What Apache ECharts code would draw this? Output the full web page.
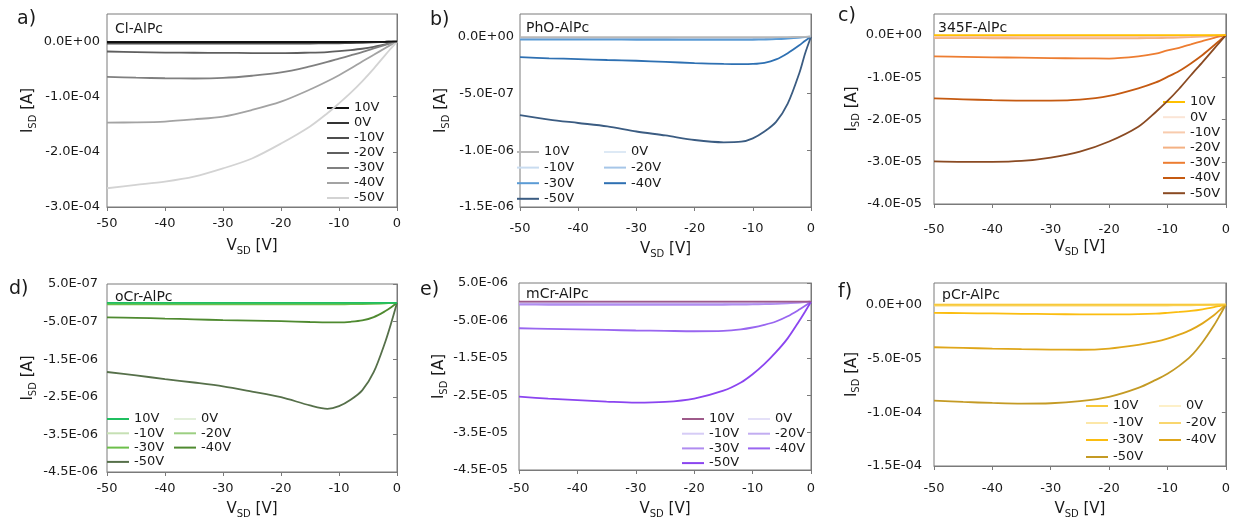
<!DOCTYPE html>
<html>
<head>
<meta charset="utf-8">
<script src="https://cdn.jsdelivr.net/npm/echarts/dist/echarts.min.js"></script>
<style>
html,body{margin:0;padding:0;background:#fff;}
#chart{width:1233px;height:520px;}
</style>
</head>
<body>
<div id="chart"></div>
<script>
// ---------- data ----------
const VSD = [-50,-45,-40,-35,-30,-25,-20,-15,-12,-10,-8,-6,-4,-2,-1,0];
const GATES = ['10V','0V','-10V','-20V','-30V','-40V','-50V'];

// Cl-AlPc
const A_CURVES = [
 [-0.8e-6,-0.8e-6,-0.8e-6,-0.8e-6,-0.8e-6,-0.8e-6,-0.8e-6,-0.8e-6,-0.8e-6,-0.8e-6,-0.7e-6,-0.6e-6,-0.5e-6,-0.3e-6,-0.1e-6,0],
 [-1.8e-6,-1.8e-6,-1.8e-6,-1.8e-6,-1.8e-6,-1.8e-6,-1.8e-6,-1.7e-6,-1.6e-6,-1.5e-6,-1.3e-6,-1.1e-6,-0.8e-6,-0.4e-6,-0.2e-6,0],
 [-3.5e-6,-3.6e-6,-3.7e-6,-3.8e-6,-3.8e-6,-3.8e-6,-3.7e-6,-3.5e-6,-3.2e-6,-3.0e-6,-2.6e-6,-2.1e-6,-1.5e-6,-0.8e-6,-0.4e-6,0],
 [-1.8e-5,-1.9e-5,-2.0e-5,-2.03e-5,-2.05e-5,-2.08e-5,-2.1e-5,-2.0e-5,-1.9e-5,-1.75e-5,-1.55e-5,-1.3e-5,-0.95e-5,-0.5e-5,-0.25e-5,0],
 [-6.4e-5,-6.55e-5,-6.65e-5,-6.7e-5,-6.6e-5,-6.2e-5,-5.6e-5,-4.5e-5,-3.7e-5,-3.1e-5,-2.5e-5,-1.9e-5,-1.25e-5,-0.6e-5,-0.3e-5,0],
 [-1.47e-4,-1.465e-4,-1.45e-4,-1.41e-4,-1.36e-4,-1.24e-4,-1.09e-4,-8.7e-5,-7.2e-5,-6.1e-5,-4.9e-5,-3.6e-5,-2.4e-5,-1.15e-5,-0.55e-5,0],
 [-2.66e-4,-2.60e-4,-2.54e-4,-2.45e-4,-2.30e-4,-2.12e-4,-1.85e-4,-1.54e-4,-1.30e-4,-1.12e-4,-9.3e-5,-7.2e-5,-4.9e-5,-2.4e-5,-1.2e-5,0]
];
// PhO-AlPc
const B_CURVES = [
 [-5e-9,-5e-9,-5e-9,-5e-9,-5e-9,-5e-9,-5e-9,-5e-9,-5e-9,-5e-9,-5e-9,-4e-9,-3e-9,-2e-9,-1e-9,0],
 [-1e-8,-1e-8,-1e-8,-1e-8,-1e-8,-1e-8,-1e-8,-1e-8,-1e-8,-1e-8,-1e-8,-8e-9,-6e-9,-3e-9,-1.5e-9,0],
 [-1.5e-8,-1.5e-8,-1.5e-8,-1.5e-8,-1.5e-8,-1.5e-8,-1.5e-8,-1.5e-8,-1.5e-8,-1.5e-8,-1.5e-8,-1.2e-8,-9e-9,-5e-9,-2.5e-9,0],
 [-2e-8,-2e-8,-2e-8,-2e-8,-2e-8,-2e-8,-2e-8,-2e-8,-2e-8,-2e-8,-2e-8,-1.6e-8,-1.2e-8,-6e-9,-3e-9,0],
 [-2.5e-8,-2.5e-8,-2.6e-8,-2.6e-8,-2.7e-8,-2.7e-8,-2.8e-8,-2.8e-8,-2.8e-8,-2.7e-8,-2.5e-8,-2.2e-8,-1.6e-8,-8e-9,-4e-9,0],
 [-1.8e-7,-1.9e-7,-1.97e-7,-2.05e-7,-2.12e-7,-2.22e-7,-2.32e-7,-2.4e-7,-2.42e-7,-2.4e-7,-2.3e-7,-2.0e-7,-1.45e-7,-0.75e-7,-0.35e-7,0],
 [-6.9e-7,-7.3e-7,-7.6e-7,-7.9e-7,-8.35e-7,-8.7e-7,-9.1e-7,-9.3e-7,-9.25e-7,-8.95e-7,-8.35e-7,-7.5e-7,-5.9e-7,-3.2e-7,-1.45e-7,0]
];
// 345F-AlPc
const C_CURVES = [
 [0,0,0,0,0,0,0,0,0,0,0,0,0,0,0,0],
 [-2e-7,-2e-7,-2e-7,-2e-7,-2e-7,-2e-7,-2e-7,-2e-7,-2e-7,-2e-7,-1.8e-7,-1.5e-7,-1.1e-7,-0.6e-7,-0.3e-7,0],
 [-4e-7,-4e-7,-4.1e-7,-4.1e-7,-4.2e-7,-4.2e-7,-4.2e-7,-4.1e-7,-3.9e-7,-3.7e-7,-3.3e-7,-2.8e-7,-2.0e-7,-1.1e-7,-0.5e-7,0],
 [-7e-7,-7.2e-7,-7.4e-7,-7.5e-7,-7.6e-7,-7.6e-7,-7.6e-7,-7.4e-7,-7.0e-7,-6.6e-7,-6.0e-7,-5.0e-7,-3.7e-7,-2.0e-7,-1.0e-7,0],
 [-5.05e-6,-5.15e-6,-5.25e-6,-5.35e-6,-5.45e-6,-5.5e-6,-5.55e-6,-5.05e-6,-4.4e-6,-3.6e-6,-3.0e-6,-2.2e-6,-1.4e-6,-0.63e-6,-0.3e-6,0],
 [-1.5e-5,-1.52e-5,-1.54e-5,-1.55e-5,-1.55e-5,-1.53e-5,-1.44e-5,-1.26e-5,-1.12e-5,-9.9e-6,-8.5e-6,-6.7e-6,-4.7e-6,-2.4e-6,-1.2e-6,0],
 [-2.99e-5,-3.0e-5,-3.0e-5,-2.98e-5,-2.9e-5,-2.76e-5,-2.52e-5,-2.17e-5,-1.82e-5,-1.56e-5,-1.27e-5,-9.5e-6,-6.4e-6,-3.2e-6,-1.6e-6,0]
];
// oCr-AlPc
const D_CURVES = [
 [0,0,0,0,0,0,0,0,0,0,0,0,0,0,0,0],
 [-1e-8,-1e-8,-1e-8,-1e-8,-1e-8,-1e-8,-1e-8,-1e-8,-1e-8,-1e-8,-1e-8,-8e-9,-6e-9,-3e-9,-1.5e-9,0],
 [-2e-8,-2e-8,-2e-8,-2e-8,-2e-8,-2e-8,-2e-8,-2e-8,-2e-8,-2e-8,-2e-8,-1.6e-8,-1.2e-8,-6e-9,-3e-9,0],
 [-3e-8,-3e-8,-3e-8,-3e-8,-3e-8,-3e-8,-3e-8,-3e-8,-3e-8,-3e-8,-2.8e-8,-2.4e-8,-1.8e-8,-9e-9,-4e-9,0],
 [-4e-8,-4e-8,-4e-8,-4e-8,-4e-8,-4e-8,-4e-8,-4e-8,-4e-8,-4e-8,-3.7e-8,-3.2e-8,-2.4e-8,-1.2e-8,-6e-9,0],
 [-3.85e-7,-4.0e-7,-4.2e-7,-4.4e-7,-4.6e-7,-4.75e-7,-4.9e-7,-5.1e-7,-5.2e-7,-5.2e-7,-5.05e-7,-4.7e-7,-3.8e-7,-2.2e-7,-1.2e-7,0],
 [-1.84e-6,-1.93e-6,-2.03e-6,-2.12e-6,-2.22e-6,-2.36e-6,-2.51e-6,-2.73e-6,-2.82e-6,-2.75e-6,-2.58e-6,-2.33e-6,-1.84e-6,-1.03e-6,-0.54e-6,0]
];
// mCr-AlPc
const E_CURVES = [
 [0,0,0,0,0,0,0,0,0,0,0,0,0,0,0,0],
 [-2e-7,-2e-7,-2e-7,-2e-7,-2e-7,-2e-7,-2e-7,-2e-7,-2e-7,-2e-7,-1.8e-7,-1.5e-7,-1.1e-7,-0.6e-7,-0.3e-7,0],
 [-4e-7,-4e-7,-4e-7,-4e-7,-4e-7,-4e-7,-4e-7,-4e-7,-4e-7,-3.8e-7,-3.5e-7,-3.0e-7,-2.2e-7,-1.2e-7,-0.6e-7,0],
 [-6e-7,-6e-7,-6.1e-7,-6.1e-7,-6.2e-7,-6.2e-7,-6.2e-7,-6.1e-7,-5.9e-7,-5.6e-7,-5.1e-7,-4.3e-7,-3.2e-7,-1.7e-7,-0.9e-7,0],
 [-8e-7,-8.1e-7,-8.2e-7,-8.3e-7,-8.4e-7,-8.4e-7,-8.4e-7,-8.2e-7,-7.8e-7,-7.4e-7,-6.7e-7,-5.7e-7,-4.2e-7,-2.3e-7,-1.2e-7,0],
 [-7.1e-6,-7.25e-6,-7.4e-6,-7.55e-6,-7.7e-6,-7.8e-6,-7.9e-6,-7.8e-6,-7.4e-6,-6.9e-6,-6.2e-6,-5.3e-6,-3.9e-6,-2.1e-6,-1.1e-6,0],
 [-2.54e-5,-2.59e-5,-2.63e-5,-2.67e-5,-2.7e-5,-2.68e-5,-2.59e-5,-2.38e-5,-2.16e-5,-1.94e-5,-1.67e-5,-1.35e-5,-9.8e-6,-5.1e-6,-2.6e-6,0]
];
// pCr-AlPc
const F_CURVES = [
 [0,0,0,0,0,0,0,0,0,0,0,0,0,0,0,0],
 [-2e-7,-2e-7,-2e-7,-2e-7,-2e-7,-2e-7,-2e-7,-2e-7,-2e-7,-2e-7,-1.8e-7,-1.5e-7,-1.1e-7,-0.6e-7,-0.3e-7,0],
 [-5e-7,-5e-7,-5e-7,-5e-7,-5e-7,-5e-7,-5e-7,-5e-7,-4.8e-7,-4.6e-7,-4.2e-7,-3.6e-7,-2.7e-7,-1.5e-7,-0.7e-7,0],
 [-1.0e-6,-1.0e-6,-1.0e-6,-1.0e-6,-1.0e-6,-1.0e-6,-1.0e-6,-0.98e-6,-0.94e-6,-0.9e-6,-0.82e-6,-0.7e-6,-0.53e-6,-0.3e-6,-0.15e-6,0],
 [-7.7e-6,-8.0e-6,-8.3e-6,-8.6e-6,-8.9e-6,-9.1e-6,-9.2e-6,-8.9e-6,-8.4e-6,-7.7e-6,-6.9e-6,-5.9e-6,-4.4e-6,-2.4e-6,-1.2e-6,0],
 [-3.97e-5,-4.03e-5,-4.09e-5,-4.14e-5,-4.18e-5,-4.2e-5,-4.09e-5,-3.75e-5,-3.45e-5,-3.17e-5,-2.8e-5,-2.35e-5,-1.75e-5,-0.98e-5,-0.5e-5,0],
 [-8.92e-5,-9.05e-5,-9.14e-5,-9.2e-5,-9.17e-5,-8.98e-5,-8.58e-5,-7.75e-5,-7.0e-5,-6.43e-5,-5.7e-5,-4.8e-5,-3.5e-5,-1.9e-5,-0.97e-5,0]
];

const A_COLORS = ['#111111','#333333','#4d4d4d','#5f5f5f','#808080','#a3a3a3','#d3d3d3'];
const B_COLORS = ['#b8b8b8','#dde9f5','#c9dcf0','#a6c6e8','#5b9bd5','#2e70b2','#3b5c82'];
const C_COLORS = ['#ffc000','#fbe5d6','#f8cbad','#f4b183','#ed7d31','#c55a11','#8a4a22'];
const D_COLORS = ['#1fbf60','#e2efda','#c6e0b4','#9ccf82','#6cbf4a','#4f8a30','#56704a'];
const E_COLORS = ['#9e5a8a','#e4e0f8','#d6ccf6','#c2adf1','#b08cf0','#9966f0','#8b45f0'];
const F_COLORS = ['#f8c93a','#fdf0c8','#fce7a8','#f9d66e','#fbbd10','#dfa61a','#c49a24'];

// ---------- layout ----------
const PANELS = [
 {k:'a', letter:'a)', title:'Cl-AlPc', data:A_CURVES, colors:A_COLORS,
  g:[107,14,290,193], y:[-3e-4,5e-5,1e-4], showMax:false, yM:7, xM:10, xGap:29, yGap:69,
  tp:[115,29], lp:[17,19], leg:[[328,108,15,[0,1,2,3,4,5,6]]]},
 {k:'b', letter:'b)', title:'PhO-AlPc', data:B_CURVES, colors:B_COLORS,
  g:[520,14,291,193], y:[-1.5e-6,2e-7,5e-7], showMax:false, yM:6, xM:15, xGap:32, yGap:69,
  tp:[526,28], lp:[430,20], leg:[[518,152,15.6,[0,2,4,6]],[605,152,15.6,[1,3,5]]]},
 {k:'c', letter:'c)', title:'345F-AlPc', data:C_CURVES, colors:C_COLORS,
  g:[934,14,292,190], y:[-4e-5,5e-6,1e-5], showMax:false, yM:12, xM:19, xGap:33, yGap:69,
  tp:[938,28], lp:[838,16], leg:[[1164,102,15.2,[0,1,2,3,4,5,6]]]},
 {k:'d', letter:'d)', title:'oCr-AlPc', data:D_CURVES, colors:D_COLORS,
  g:[107,284,290,189], y:[-4.5e-6,5e-7,1e-6], showMax:true, yM:9, xM:10, xGap:27, yGap:69,
  tp:[115,297], lp:[9,289], leg:[[108,419,14.3,[0,2,4,6]],[175,419,14.3,[1,3,5]]]},
 {k:'e', letter:'e)', title:'mCr-AlPc', data:E_CURVES, colors:E_COLORS,
  g:[519,283,292,188], y:[-4.5e-5,5e-6,1e-5], showMax:true, yM:11, xM:12, xGap:29, yGap:69,
  tp:[526,294], lp:[420,290], leg:[[683,419,14.7,[0,2,4,6]],[749,419,14.7,[1,3,5]]]},
 {k:'f', letter:'f)', title:'pCr-AlPc', data:F_CURVES, colors:F_COLORS,
  g:[934,283,292,184], y:[-1.5e-4,2e-5,5e-5], showMax:false, yM:12, xM:16, xGap:33, yGap:69,
  tp:[942,295], lp:[838,292], leg:[[1087,406,17,[0,2,4,6]],[1160,406,17,[1,3,5]]]}
];

const FONT = '"DejaVu Sans", "Liberation Sans", sans-serif';
const TXT = '#1a1a1a';
const AX = '#7a7a7a';

function sci(v){
  if (Math.abs(v) < 1e-12) v = 0;
  const s = v.toExponential(1);
  const parts = s.split('e');
  const sign = parts[1][0] === '-' ? '-' : '+';
  let d = parts[1].replace(/[+-]/, '');
  if (d.length < 2) d = '0' + d;
  return parts[0] + 'E' + sign + d;
}

const nameRich = {
  a:{fontSize:15, fontFamily:FONT, color:TXT, lineHeight:20, verticalAlign:'middle'},
  b:{fontSize:10, fontFamily:FONT, color:TXT, lineHeight:12, verticalAlign:'bottom'}
};

const grid = [], xAxis = [], yAxis = [], series = [], legend = [], graphic = [];
PANELS.forEach((p, i) => {
  grid.push({left:p.g[0], top:p.g[1], width:p.g[2], height:p.g[3], show:true,
    borderColor:AX, borderWidth:1, backgroundColor:'transparent'});
  xAxis.push({type:'value', gridIndex:i, min:-50, max:0, interval:10,
    axisLine:{show:true, onZero:false, lineStyle:{color:AX, width:1}},
    axisTick:{show:true, length:4, lineStyle:{color:AX}},
    splitLine:{show:false},
    axisLabel:{margin:p.xM, fontSize:13, fontFamily:FONT, color:TXT},
    name:'{a|V}{b|SD}{a| [V]}', nameLocation:'middle', nameGap:p.xGap,
    nameTextStyle:{rich:nameRich}});
  yAxis.push({type:'value', gridIndex:i, min:p.y[0], max:p.y[1], interval:p.y[2],
    axisLine:{show:true, lineStyle:{color:AX, width:1}},
    axisTick:{show:true, length:4, lineStyle:{color:AX}},
    splitLine:{show:false},
    axisLabel:{margin:p.yM, fontSize:13, fontFamily:FONT, color:TXT, formatter:sci,
      showMaxLabel:p.showMax},
    name:'{a|I}{b|SD}{a| [A]}', nameLocation:'middle', nameGap:p.yGap,
    nameTextStyle:{rich:nameRich}});
  p.data.forEach((vals, j) => {
    series.push({type:'line', name:p.k + '|' + GATES[j], xAxisIndex:i, yAxisIndex:i,
      data:VSD.map((x, n) => [x, vals[n]]),
      showSymbol:false, symbol:'none', smooth:0.3,
      lineStyle:{color:p.colors[j], width:1.8},
      itemStyle:{color:p.colors[j]},
      z: 2 + (j === 0 ? 7 : j)});
  });
  p.leg.forEach(col => {
    legend.push({orient:'vertical', left:col[0] - 2, top:col[1] - 7.5, padding:0,
      itemWidth:22, itemHeight:10, itemGap:col[2] - 15,
      selectedMode:false,
      itemStyle:{opacity:0},
      lineStyle:{width:2},
      textStyle:{fontSize:13, fontFamily:FONT, color:TXT, lineHeight:15},
      formatter:(n) => n.split('|')[1],
      data:col[3].map(j => p.k + '|' + GATES[j])});
  });
  graphic.push({type:'text', x:p.tp[0], y:p.tp[1], z:10,
    style:{text:p.title, fontSize:14, fontFamily:FONT, fill:TXT, verticalAlign:'middle'}});
  graphic.push({type:'text', x:p.lp[0], y:p.lp[1], z:10,
    style:{text:p.letter, fontSize:19, fontFamily:FONT, fill:TXT, verticalAlign:'middle'}});
});

const chart = echarts.init(document.getElementById('chart'), null, {renderer:'canvas'});
chart.setOption({
  animation:false,
  backgroundColor:'#ffffff',
  grid, xAxis, yAxis, series, legend, graphic
});
</script>
</body>
</html>
